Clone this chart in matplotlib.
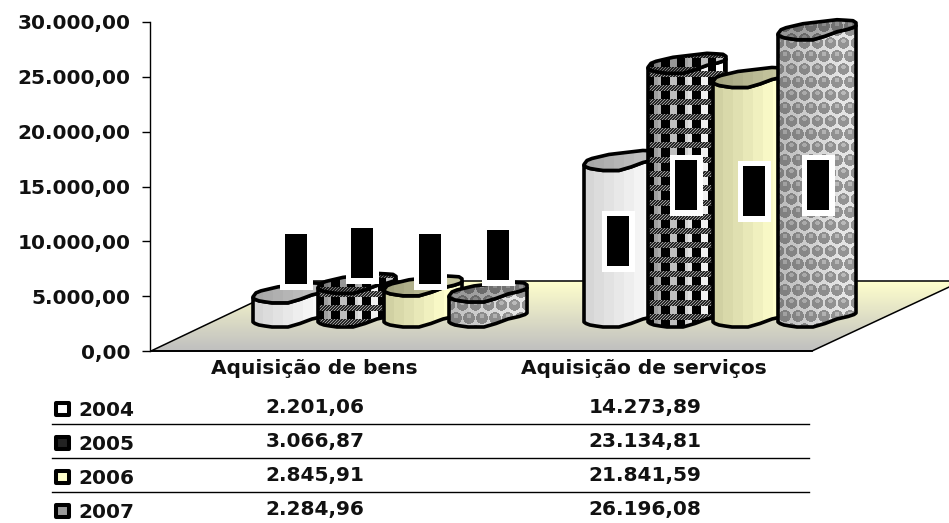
import numpy as np
import matplotlib
matplotlib.use("Agg")
import matplotlib.pyplot as plt
from matplotlib.patches import Polygon, Rectangle

categories = ["Aquisição de bens", "Aquisição de serviços"]
years = ["2004", "2005", "2006", "2007"]
values_2004 = [2201.06, 14273.89]
values_2005 = [3066.87, 23134.81]
values_2006 = [2845.91, 21841.59]
values_2007 = [2284.96, 26196.08]
value_labels_2004 = ["2.201,06", "14.273,89"]
value_labels_2005 = ["3.066,87", "23.134,81"]
value_labels_2006 = ["2.845,91", "21.841,59"]
value_labels_2007 = ["2.284,96", "26.196,08"]
y_ticks = [0, 5000, 10000, 15000, 20000, 25000, 30000]
y_tick_labels = ["0,00", "5.000,00", "10.000,00", "15.000,00", "20.000,00", "25.000,00", "30.000,00"]

series = [values_2004, values_2005, values_2006, values_2007]
table_labels = [value_labels_2004, value_labels_2005, value_labels_2006, value_labels_2007]

# layout, in image pixels
W, H = 949, 523
Y0 = 351           # pixel row of value 0
K = 329 / 30000    # pixels per unit
BASE = 322         # pixel row where the bars start
BAR_W = 78
bar_left = [[253, 318, 384, 449], [584, 648, 713, 778]]
label_top = [[234, 228, 234, 230], [216, 160, 166, 160]]
label_left = [[285, 351, 419, 487], [607, 675, 743, 807]]
font = "DejaVu Sans"
FS = 14.5


def py(p):
    # pixel row -> value on the y axis
    return (Y0 - p) / K


# outline of the squashed cylinder, dx and rise in pixels
front_dx = np.array([0, 2, 6, 12, 19, 35, 47, 59, 70, 76, 78])
front_up = np.array([0, -1.5, -3, -4, -5, -5, -1.5, 3, 5.5, 7.5, 9])
back_dx = np.array([78, 78, 75, 68, 59, 42, 25, 8, 3, 0])
back_up = np.array([9, 12, 14, 14.5, 15, 13, 11, 7, 5, 1])


def bands(x, dark, light):
    t = np.floor(x / 10) * 10 / 58
    t = np.clip(t, 0, 1)[..., None]
    return np.array(dark) * (1 - t) + np.array(light) * t


def texture(i, w, h):
    yy, xx = np.mgrid[0:h, 0:w]
    if i == 0:
        return bands(xx, (0.84, 0.84, 0.84), (0.98, 0.98, 0.98))
    if i == 2:
        return bands(xx, (0.82, 0.82, 0.64), (1.0, 1.0, 0.80))
    img = bands(xx, (0.62, 0.62, 0.62), (1.0, 1.0, 1.0))
    if i == 1:
        square = ((xx + 3) % 15.6 < 8.5) & (yy % 14.3 >= 6)
        img[square] = 0
        stripe = yy % 14.3 < 6
        dots = (xx + yy) % 3 < 1.5
        img[stripe] = 0.6
        img[stripe & dots] = 0.15
    else:
        shade = img.copy()
        img = shade * 0.4 + 0.5
        cx = (xx + (yy // 13) % 2 * 6.5) % 13 - 6.5
        cy = yy % 13 - 6.5
        img[np.hypot(cx, cy) < 5.8] = 0
        img = np.where(np.hypot(cx, cy)[..., None] < 5.8, shade * 0.2 + 0.38, img)
        img = np.where(np.hypot(cx, cy + 2)[..., None] < 2.4, shade * 0.25 + 0.48, img)
    return img


fig = plt.figure(figsize=(W / 100, H / 100), dpi=100)
ax = fig.add_axes([0, 0, 1, 1])
ax.set_xlim(0, W)
ax.set_ylim(py(H), py(0))

# floor
floor_xy = [(298, py(281)), (962, py(281)), (812, py(351)), (151, py(351))]
floor = Polygon(floor_xy, closed=True, fc="none", ec="black", lw=1.1, zorder=2)
ax.add_patch(floor)
grad = np.linspace(0, 1, 70)[:, None, None]
floor_img = np.array([1, 1, 0.8]) * (1 - grad) + np.array([0.75, 0.75, 0.75]) * grad
im = ax.imshow(floor_img, extent=(150, 962, py(351), py(281)), aspect="auto", zorder=1, origin="upper")
im.set_clip_path(floor)
ax.plot([151, 812], [0, 0], color="black", lw=1.3, zorder=3)

# bars
z = 5
for g in range(2):
    for s in range(4):
        x0 = bar_left[g][s]
        val = series[s][g]
        top = BASE - val * K
        base_v = py(BASE)
        body_xy = np.vstack([
            np.column_stack([x0 + front_dx, base_v + front_up / K]),
            np.column_stack([x0 + front_dx[::-1], base_v + val + front_up[::-1] / K]),
        ])
        cap_xy = np.vstack([
            np.column_stack([x0 + front_dx, base_v + val + front_up / K]),
            np.column_stack([x0 + back_dx, base_v + val + back_up / K]),
        ])
        h = int(round(BASE - top)) + 20
        body = Polygon(body_xy, closed=True, fc="none", ec="black", lw=2.6, joinstyle="round", zorder=z + 1)
        cap = Polygon(cap_xy, closed=True, fc="none", ec="black", lw=2.6, joinstyle="round", zorder=z + 3)
        ax.add_patch(body)
        ax.add_patch(cap)
        tex = texture(s, BAR_W, h)
        im = ax.imshow(tex, extent=(x0, x0 + BAR_W, py(BASE + 8), py(BASE + 8 - h)),
                       aspect="auto", zorder=z, origin="upper", interpolation="nearest")
        im.set_clip_path(body)
        cap_tex = texture(s, BAR_W, 24) * 0.78
        im = ax.imshow(cap_tex, extent=(x0, x0 + BAR_W, py(top + 8), py(top - 16)),
                       aspect="auto", zorder=z + 2, origin="upper", interpolation="nearest")
        im.set_clip_path(cap)
        z += 4

# data labels came out as black blocks on white boxes
for g in range(2):
    for s in range(4):
        lx, ly = label_left[g][s], label_top[g][s]
        ax.add_patch(Rectangle((lx - 5, py(ly + 56)), 33, 61 / K, fc="white", ec="none", zorder=60))
        ax.add_patch(Rectangle((lx, py(ly + 50)), 22, 50 / K, fc="black", ec="none", zorder=61))

ax.set_xlim(0, W)
ax.set_ylim(py(H), py(0))

# value axis
for name in ["top", "right", "bottom"]:
    ax.spines[name].set_visible(False)
ax.spines["left"].set_position(("data", 150))
ax.spines["left"].set_bounds(0, 30000)
ax.spines["left"].set_linewidth(1.0)
ax.set_xticks([])
ax.set_yticks(y_ticks)
ax.set_yticklabels(y_tick_labels, fontfamily=font, fontweight="bold", fontsize=FS, color="#111111")
ax.tick_params(axis="y", length=6, width=1.0, pad=8)
ax.patch.set_visible(False)

# data table
for c, cx in zip(categories, [314, 644]):
    ax.text(cx, py(369), c, ha="center", va="center", fontfamily=font, fontweight="bold", fontsize=FS, color="#111111")
key_fill = ["white", "#222222", "#ffffcc", "#999999"]
for r, year in enumerate(years):
    row = 409 + 34 * r
    ax.add_patch(Rectangle((56, py(row + 6)), 13, 12 / K, fc=key_fill[r], ec="black", lw=2.9, joinstyle="round", zorder=5))
    ax.text(78, py(row + 1), year, ha="left", va="center", fontfamily=font, fontweight="bold", fontsize=FS, color="#111111")
    for g, cx in enumerate([315, 645]):
        ax.text(cx, py(row - 1), table_labels[r][g], ha="center", va="center", fontfamily=font, fontweight="bold", fontsize=FS, color="#111111")
    if r < 3:
        ax.plot([52, 809], [py(row + 14.5)] * 2, color="black", lw=1.0, zorder=3)

fig.savefig("out.png", dpi=100)
